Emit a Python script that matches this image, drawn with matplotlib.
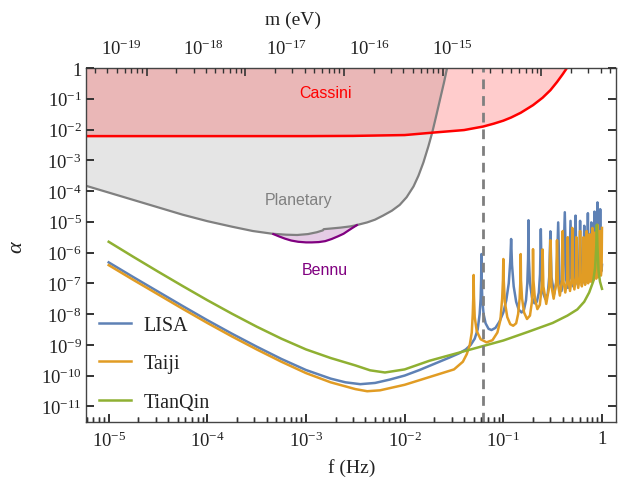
import numpy as np
import matplotlib
matplotlib.use("Agg")
matplotlib.rcdefaults()
import matplotlib.pyplot as plt
from matplotlib.ticker import NullLocator, NullFormatter
from matplotlib.transforms import blended_transform_factory

plt.rcParams['font.family'] = ['Liberation Serif', 'DejaVu Serif']
plt.rcParams['mathtext.fontset'] = 'custom'
plt.rcParams['mathtext.rm'] = 'Liberation Serif'
plt.rcParams['mathtext.it'] = 'Liberation Serif:italic'

# ---------------- data (log10 f [Hz], log10 alpha) ----------------
lisa_logf = [-5.0, -4.75, -4.5, -4.25, -4.0, -3.75, -3.5, -3.25, -3.0, -2.75, -2.6, -2.45, -2.3, -2.15,
             -2.0, -1.85, -1.7, -1.55, -1.45, -1.38, -1.33, -1.29, -1.26, -1.24, -1.23, -1.225, -1.222,
             -1.219, -1.213, -1.2, -1.18, -1.15, -1.12, -1.08, -1.04, -1.0, -0.97, -0.945, -0.93, -0.921,
             -0.912, -0.895, -0.87, -0.845, -0.815, -0.79, -0.77, -0.757, -0.749, -0.745,
             -0.741, -0.73, -0.71, -0.685, -0.66, -0.64, -0.628, -0.620,
             -0.612, -0.598, -0.575, -0.55, -0.535, -0.523,
             -0.512, -0.485, -0.46, -0.444,
             -0.43, -0.41, -0.395, -0.377,
             -0.362, -0.345, -0.332, -0.319,
             -0.306, -0.292, -0.280, -0.268,
             -0.256, -0.244, -0.233, -0.222,
             -0.212, -0.200, -0.190, -0.180,
             -0.171, -0.161, -0.152, -0.143,
             -0.135, -0.125, -0.116, -0.108,
             -0.101, -0.092, -0.084, -0.076,
             -0.069, -0.061, -0.053, -0.046,
             -0.039, -0.032, -0.025, -0.018,
             -0.012, -0.005, 0.0]
lisa_loga = [-6.32, -6.80, -7.27, -7.74, -8.20, -8.64, -9.06, -9.46, -9.82, -10.10, -10.22, -10.28, -10.24, -10.13,
             -10.00, -9.82, -9.62, -9.42, -9.28, -9.15, -9.00, -8.80, -8.50, -8.00, -7.50, -6.90, -6.05,
             -6.90, -7.55, -8.00, -8.30, -8.48, -8.52, -8.45, -8.25, -7.95, -7.55, -7.00, -6.30, -5.56,
             -6.40, -7.10, -7.60, -7.85, -7.95, -7.85, -7.55, -7.00, -6.20, -4.95,
             -6.20, -7.00, -7.45, -7.65, -7.60, -7.30, -6.70, -5.24,
             -6.70, -7.30, -7.51, -7.35, -6.80, -5.31,
             -6.80, -7.35, -6.90, -5.02,
             -6.90, -7.25, -6.90, -4.69,
             -6.90, -7.15, -6.85, -4.97,
             -6.85, -7.10, -6.80, -4.80,
             -6.80, -7.05, -6.75, -4.97,
             -6.75, -7.00, -6.75, -5.13,
             -6.75, -6.95, -6.70, -4.72,
             -6.70, -6.90, -6.65, -5.02,
             -6.65, -6.85, -6.60, -4.67,
             -6.60, -6.80, -6.55, -4.37,
             -6.55, -6.75, -6.50, -4.59,
             -6.50, -6.60, -6.40]

taiji_logf = [-5.0, -4.75, -4.5, -4.25, -4.0, -3.75, -3.5, -3.25, -3.0, -2.75, -2.5, -2.38, -2.25, -2.0,
              -1.81, -1.65, -1.5, -1.41, -1.37, -1.34, -1.32, -1.31, -1.304, -1.301,
              -1.298, -1.29, -1.27, -1.23, -1.17, -1.11, -1.06, -1.03, -1.012, -1.004, -1.0,
              -0.996, -0.985, -0.96, -0.93, -0.90, -0.87, -0.85, -0.835, -0.827, -0.824,
              -0.821, -0.81, -0.79, -0.76, -0.73, -0.71, -0.702, -0.699,
              -0.695, -0.68, -0.655, -0.63, -0.61, -0.602,
              -0.594, -0.565, -0.535, -0.523,
              -0.512, -0.49, -0.465, -0.456,
              -0.447, -0.427, -0.405, -0.398,
              -0.390, -0.372, -0.353, -0.347,
              -0.340, -0.324, -0.307, -0.301,
              -0.295, -0.280, -0.265, -0.260,
              -0.254, -0.241, -0.227, -0.222,
              -0.217, -0.204, -0.192, -0.187,
              -0.182, -0.171, -0.159, -0.155,
              -0.150, -0.140, -0.129, -0.125,
              -0.121, -0.111, -0.101, -0.097,
              -0.093, -0.084, -0.075, -0.071,
              -0.067, -0.058, -0.050, -0.046,
              -0.042, -0.034, -0.026, -0.022,
              -0.018, -0.011, -0.004, 0.0]
taiji_loga = [-6.41, -6.89, -7.36, -7.83, -8.29, -8.73, -9.15, -9.55, -9.92, -10.22, -10.44, -10.51, -10.48, -10.30,
              -10.11, -9.95, -9.80, -9.55, -9.30, -9.00, -8.60, -8.00, -7.40, -6.73,
              -7.40, -8.10, -8.55, -8.82, -8.92, -8.85, -8.60, -8.20, -7.50, -6.90, -6.21,
              -6.90, -7.60, -8.10, -8.33, -8.38, -8.30, -8.00, -7.50, -6.90, -6.05,
              -6.90, -7.50, -7.95, -8.16, -8.05, -7.60, -6.90, -5.89,
              -6.90, -7.50, -7.84, -7.70, -7.10, -5.90,
              -7.10, -7.67, -7.10, -5.60,
              -7.10, -7.50, -7.00, -5.60,
              -7.00, -7.40, -6.90, -5.30,
              -6.95, -7.30, -6.90, -5.50,
              -6.90, -7.25, -6.85, -5.20,
              -6.85, -7.20, -6.80, -5.50,
              -6.80, -7.15, -6.80, -5.30,
              -6.80, -7.10, -6.75, -5.50,
              -6.75, -7.05, -6.70, -5.30,
              -6.70, -7.00, -6.70, -5.40,
              -6.70, -6.95, -6.65, -5.20,
              -6.65, -6.90, -6.65, -5.35,
              -6.65, -6.85, -6.60, -5.10,
              -6.60, -6.80, -6.60, -5.30,
              -6.60, -6.75, -6.55, -5.20]

tianqin_logf = [-5.0, -4.75, -4.5, -4.25, -4.0, -3.75, -3.5, -3.25, -3.0, -2.75, -2.5, -2.35, -2.2, -2.0,
                -1.75, -1.5, -1.25, -1.0, -0.75, -0.5, -0.35, -0.25, -0.18, -0.13, -0.09, -0.07,
                -0.058, -0.052, -0.046, -0.035, -0.02, 0.0]
tianqin_loga = [-5.65, -6.14, -6.62, -7.09, -7.55, -7.99, -8.41, -8.80, -9.15, -9.43, -9.67, -9.83, -9.90, -9.80,
                -9.52, -9.30, -9.08, -8.86, -8.58, -8.29, -8.05, -7.85, -7.60, -7.30, -6.95, -6.50,
                -5.80, -5.10, -5.80, -6.60, -6.95, -7.18]

cassini_f = [5.9e-6, 1e-4, 1e-3, 3e-3, 0.01, 0.02, 0.04, 0.0625, 0.08, 0.1, 0.12, 0.15, 0.2, 0.25, 0.3, 0.35, 0.4, 0.45]
cassini_a = [6.1e-3, 6.1e-3, 6.1e-3, 6.2e-3, 6.6e-3, 8.0e-3, 9.6e-3, 1.25e-2, 1.55e-2, 1.94e-2, 2.46e-2, 3.5e-2,
             6.2e-2, 0.108, 0.19, 0.35, 0.63, 1.1]

planet_logf = [-5.23, -5.0, -4.75, -4.5, -4.25, -4.0, -3.75, -3.54, -3.34, -3.2, -3.09, -2.98, -2.89, -2.83,
               -2.82, -2.75, -2.65, -2.55, -2.49, -2.38, -2.3, -2.22, -2.13, -2.05, -1.98, -1.91, -1.86,
               -1.81, -1.76, -1.72, -1.68, -1.64, -1.60, -1.57]
planet_loga = [-3.83, -4.05, -4.29, -4.53, -4.77, -4.98, -5.16, -5.30, -5.39, -5.42, -5.43, -5.40, -5.34, -5.28,
               -5.24, -5.22, -5.19, -5.15, -5.11, -5.02, -4.93, -4.80, -4.64, -4.45, -4.20, -3.85, -3.50,
               -3.07, -2.55, -2.09, -1.55, -1.00, -0.45, 0.0]

bennu_logf = [-3.331, -3.27, -3.212, -3.15, -3.08, -3.0, -2.941, -2.87, -2.806, -2.74, -2.674, -2.62, -2.573,
              -2.53, -2.485]
bennu_loga = [-5.40, -5.48, -5.55, -5.61, -5.65, -5.67, -5.67, -5.66, -5.63, -5.56, -5.47, -5.39, -5.29,
              -5.20, -5.11]

f_dashed = 0.0625
x_ticks = [1e-5, 1e-4, 1e-3, 1e-2, 1e-1, 1]
x_ticklabels = [r'$10^{-5}$', r'$10^{-4}$', r'$10^{-3}$', r'$10^{-2}$', r'$10^{-1}$', '1']
y_ticks = [10.0 ** -k for k in range(0, 12)]
y_ticklabels = ['1'] + [r'$10^{-%d}$' % k for k in range(1, 12)]
m_ticks = [1e-19, 1e-18, 1e-17, 1e-16, 1e-15]
m_minor = [k * 10.0 ** e for e in range(-20, -14) for k in range(2, 10)]
m_label_pos = [10 ** -19.25, 10 ** -18.42, 10 ** -17.58, 10 ** -16.74, 10 ** -15.90]
m_ticklabels = [r'$10^{-19}$', r'$10^{-18}$', r'$10^{-17}$', r'$10^{-16}$', r'$10^{-15}$']
f_minor = [k * 10.0 ** e for e in range(-6, 1) for k in range(2, 10)]
H_EV = 4.1357e-15

C_LISA = '#5e81b5'
C_TAIJI = '#e19c24'
C_TQ = '#8fb032'

def p(v):
    return 10.0 ** np.asarray(v, dtype=float)

fig = plt.figure(figsize=(6.26, 4.85), dpi=100)
AX_W, AX_H = 530, 354
ax = fig.add_axes([86 / 626, 1 - 423 / 485, AX_W / 626, AX_H / 485])
ax.set_xscale('log')
ax.set_yscale('log')
xlo, xhi = 10 ** -5.23, 10 ** 0.142
ylo, yhi = 10 ** -11.51, 1.0

# fills
ax.fill_between(p(bennu_logf), p(bennu_loga), 1, color='#800080', alpha=0.2, lw=0, zorder=0.2)
ax.fill_between(p(planet_logf), p(planet_loga), 1, color='#e5e5e5', lw=0, zorder=0.3)
ax.fill_between(cassini_f, cassini_a, 1, color='#ff0000', alpha=0.2, lw=0, zorder=0.4)

ax.plot(p(planet_logf), p(planet_loga), color='#808080', lw=1.6, zorder=5)
ax.plot(p(bennu_logf), p(bennu_loga), color='#800080', lw=1.6, zorder=5)
ax.plot(cassini_f, cassini_a, color='#ff0000', lw=1.8, zorder=6)

ax.plot(p(lisa_logf), p(lisa_loga), color=C_LISA, lw=1.8, zorder=7, label='LISA')
ax.plot(p(taiji_logf), p(taiji_loga), color=C_TAIJI, lw=1.8, zorder=8, label='Taiji')
ax.plot(p(tianqin_logf), p(tianqin_loga), color=C_TQ, lw=1.8, zorder=9, label='TianQin')

ax.axvline(f_dashed, color='#7f7f7f', lw=2.0, ls=(0, (3.5, 2.5)), zorder=10)

# region labels
ax.text(10 ** -2.806, 10 ** -0.79, 'Cassini', color='#ff0000', family='Liberation Sans', fontsize=11.5,
        ha='center', va='center', zorder=11)
ax.text(10 ** -3.077, 10 ** -4.28, 'Planetary', color='#808080', family='Liberation Sans', fontsize=11.5,
        ha='center', va='center', zorder=11)
ax.text(10 ** -2.806, 10 ** -6.56, 'Bennu', color='#800080', family='Liberation Sans', fontsize=11.5,
        ha='center', va='center', zorder=11)

# frame, ticks (built-in inward ticks on bottom/left/right)
frame_c = '#333333'
for s in ax.spines.values():
    s.set_color('#444444')
    s.set_linewidth(1.0)
    s.set_zorder(30)
ax.set_xticks(x_ticks)
ax.set_xticklabels(x_ticklabels)
ax.set_xticks([v for v in f_minor if xlo < v < xhi], minor=True)
ax.xaxis.set_minor_formatter(NullFormatter())
ax.set_yticks(y_ticks)
ax.set_yticklabels(y_ticklabels)
ax.yaxis.set_minor_locator(NullLocator())
ax.set_xlim(xlo, xhi)
ax.set_ylim(ylo, yhi)
ax.set_axisbelow(False)
ax.tick_params(axis='x', which='both', direction='in', top=False, bottom=True, color=frame_c,
               labelcolor='#222222', labelsize=13.5, pad=6)
ax.tick_params(axis='x', which='major', length=6, width=1.2)
ax.tick_params(axis='x', which='minor', length=3.6, width=1.0)
ax.tick_params(axis='y', which='major', direction='in', left=True, right=True, color=frame_c,
               labelcolor='#222222', labelsize=13.5, pad=3, length=6, width=1.2)

# additional explicit tick segments (same positions) incl. the top mass scale
LMAJ, LMIN = 8.0, 5.0  # pixels
trx = blended_transform_factory(ax.transData, ax.transAxes)
try_ = blended_transform_factory(ax.transAxes, ax.transData)
fmin_in = [v for v in f_minor if xlo < v < xhi]
ax.vlines(x_ticks, 0, LMAJ / AX_H, transform=trx, colors=frame_c, lw=1.2, zorder=35, clip_on=False)
ax.vlines(fmin_in, 0, LMIN / AX_H, transform=trx, colors=frame_c, lw=1.0, zorder=35, clip_on=False)
mt_f = [m / H_EV for m in m_ticks]
mm_f = [m / H_EV for m in m_minor if xlo < m / H_EV < xhi]
ax.vlines(mt_f, 1 - LMAJ / AX_H, 1, transform=trx, colors=frame_c, lw=1.2, zorder=35, clip_on=False)
ax.vlines(mm_f, 1 - LMIN / AX_H, 1, transform=trx, colors=frame_c, lw=1.0, zorder=35, clip_on=False)
ax.hlines(y_ticks, 0, LMAJ / AX_W, transform=try_, colors=frame_c, lw=1.2, zorder=35, clip_on=False)
ax.hlines(y_ticks, 1 - LMAJ / AX_W, 1, transform=try_, colors=frame_c, lw=1.2, zorder=35, clip_on=False)

# top mass tick labels
for mpos, lab in zip(m_label_pos, m_ticklabels):
    ax.text(mpos / H_EV, 1.0 + 10 / AX_H, lab, transform=trx, ha='center', va='bottom', fontsize=13.5,
            color='#222222', clip_on=False)

# axis titles
fig.text(293 / 626, 1 - 20 / 485, 'm (eV)', ha='center', va='center', fontsize=14, color='#222222')
fig.text(351.7 / 626, 1 - 468 / 485, 'f (Hz)', ha='center', va='center', fontsize=14, color='#222222')
fig.text(18 / 626, 1 - 247 / 485, r'$\alpha$', ha='center', va='center', fontsize=16, rotation=90,
         color='#222222')

leg = ax.legend(loc='upper left', bbox_to_anchor=(13 / AX_W, 1 - (317 - 69) / AX_H), frameon=False,
                fontsize=14.5, handlelength=1.6, handletextpad=0.6, labelspacing=0.95, borderpad=0,
                borderaxespad=0)
leg.set_zorder(20)
for t in leg.get_texts():
    t.set_color('#222222')

fig.savefig('out.png', dpi=100)
